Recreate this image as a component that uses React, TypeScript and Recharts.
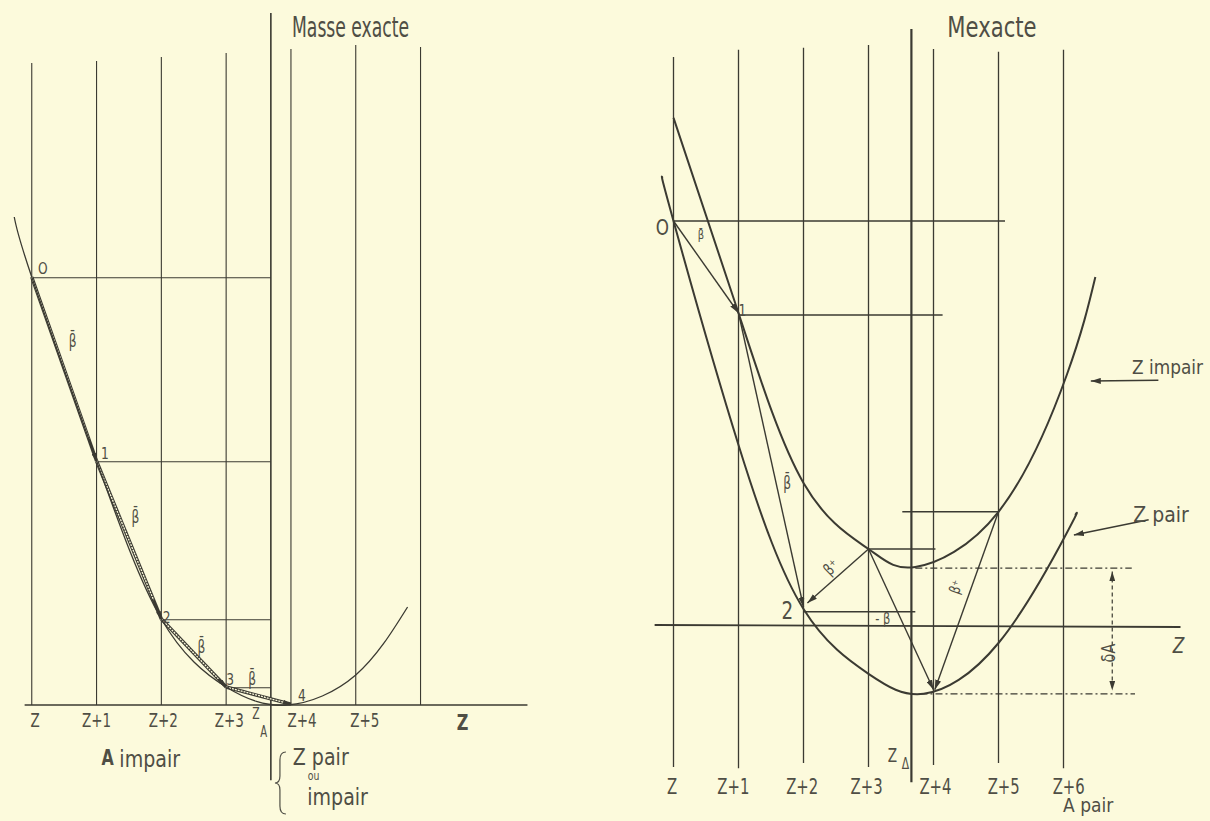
import { ComposedChart, Line, ReferenceLine, Scatter, XAxis, YAxis } from 'recharts';

const PAPER = '#fcfadc';
const INK = '#3b3a32';
const TEXT = '#4f4e45';
const FONT = "'DejaVu Sans Condensed', 'DejaVu Sans', sans-serif";

// ---------- left panel : A impair ----------
const leftLines = [0, 1, 2, 3, 4, 5, 6];
const leftLineTops = [16.05, 16.1, 16.2, 16.3, 16.4, 16.5, 16.45];
const leftZA = 3.69;
const leftCurve = [
  { x: -0.27, y: 12.2 },
  { x: 0, y: 10.7 },
  { x: 1, y: 6.1 },
  { x: 2, y: 2.15 },
  { x: 3, y: 0.45 },
  { x: 3.95, y: 0 },
  { x: 5, y: 0.75 },
  { x: 5.8, y: 2.45 },
];
const leftStates = [
  { x: 0, y: 10.7 },
  { x: 1, y: 6.1 },
  { x: 2, y: 2.15 },
  { x: 3, y: 0.45 },
  { x: 4, y: 0.02 },
];
const leftStateNames = ['O', '1', '2', '3', '4'];
const leftStateNameAt = [
  { x: 0.17, y: 10.93 },
  { x: 1.13, y: 6.3 },
  { x: 2.08, y: 2.2 },
  { x: 3.06, y: 0.65 },
  { x: 4.17, y: 0.25 },
];
const leftBetaAt = [
  { x: 0.63, y: 9.1 },
  { x: 1.6, y: 4.7 },
  { x: 2.62, y: 1.45 },
  { x: 3.4, y: 0.65 },
];
const leftTickLabels = ['Z', 'Z+1', 'Z+2', 'Z+3', 'Z+4', 'Z+5'];
const leftTickAt = [0.05, 1.0, 2.03, 3.05, 4.17, 5.14];

// ---------- right panel : A pair ----------
const rightLines = [0, 1, 2, 3, 4, 5, 6];
const rightLineTops = [14.2, 14.38, 14.43, 14.5, 14.4, 14.33, 14.38];
const rightLineBottoms = [-3.55, -3.58, -3.45, -3.55, -3.5, -3.45, -3.58];
const rightZA = 3.66;
const pairCurve = [
  { x: -0.17, y: 11.18 },
  { x: 0, y: 10.1 },
  { x: 1, y: 4.5 },
  { x: 2, y: 0.4 },
  { x: 3, y: -1.22 },
  { x: 3.85, y: -1.72 },
  { x: 5, y: -0.45 },
  { x: 6.05, y: 2.3 },
  { x: 6.18, y: 2.75 },
];
const impairCurve = [
  { x: 0, y: 12.68 },
  { x: 1, y: 7.8 },
  { x: 2, y: 3.55 },
  { x: 3, y: 1.9 },
  { x: 3.72, y: 1.45 },
  { x: 5, y: 2.83 },
  { x: 6.05, y: 6.25 },
  { x: 6.49, y: 8.7 },
];
const rightLevels = [
  { y: 10.1, from: 0, to: 5.1 },
  { y: 7.75, from: 1, to: 4.14 },
  { y: 0.33, from: 2, to: 3.72 },
  { y: 1.9, from: 3, to: 4.03 },
  { y: 2.83, from: 3.52, to: 5 },
];
const rightDecays = [
  { a: { x: 0, y: 10.1 }, b: { x: 1, y: 7.8 } },
  { a: { x: 1, y: 7.8 }, b: { x: 2, y: 0.45 } },
  { a: { x: 3, y: 1.9 }, b: { x: 2.06, y: 0.55 } },
  { a: { x: 3, y: 1.9 }, b: { x: 4, y: -1.62 } },
  { a: { x: 5, y: 2.83 }, b: { x: 4.02, y: -1.62 } },
];
const minLevels = [
  { y: 1.42, from: 3.72, to: 7.05 },
  { y: -1.72, from: 3.8, to: 7.1 },
];
const rightTickLabels = ['Z', 'Z+1', 'Z+2', 'Z+3', 'Z+4', 'Z+5', 'Z+6'];
const rightTickAt = [-0.02, 0.92, 1.98, 2.97, 4.03, 5.08, 6.08];

type Frame = { x0: number; ux: number; y0: number; uy: number; xd: [number, number]; yd: [number, number] };
const LEFT: Frame = { x0: 32, ux: 64.8, y0: 705, uy: 40, xd: [-0.49, 8], yd: [-2.9, 17.6] };
const RIGHT: Frame = { x0: 673, ux: 65, y0: 625, uy: 40, xd: [-0.5, 8.3], yd: [-4.9, 15.6] };

type NoteStyle = { size: number; sx?: number; rot?: number; bold?: boolean; italic?: boolean };

const noteShape = (s: NoteStyle) => (p: any) => {
  const t = p.payload?.t ?? '';
  return (
    <text
      transform={`translate(${p.cx},${p.cy}) rotate(${s.rot ?? 0}) scale(${s.sx ?? 0.78},1)`}
      textAnchor="middle"
      dominantBaseline="central"
      fontSize={s.size}
      fontFamily={FONT}
      fontWeight={s.bold ? 'bold' : 'normal'}
      fontStyle={s.italic ? 'italic' : 'normal'}
      fill={TEXT}
    >
      {t}
    </text>
  );
};

const notes = (key: string, data: { x: number; y: number; t: string }[], s: NoteStyle) => (
  <Scatter key={key} data={data} dataKey="y" shape={noteShape(s)} isAnimationActive={false} />
);

const plain = (w: number, dash?: string, head?: string, tail?: string) => (p: any) => (
  <line
    x1={p.x1}
    y1={p.y1}
    x2={p.x2}
    y2={p.y2}
    stroke={INK}
    strokeWidth={w}
    strokeDasharray={dash}
    markerEnd={head ? `url(#${head})` : undefined}
    markerStart={tail ? `url(#${tail})` : undefined}
  />
);

const doubled = (head: string) => (p: any) => {
  const mx = p.x1 + (p.x2 - p.x1) * 0.88;
  const my = p.y1 + (p.y2 - p.y1) * 0.88;
  return (
    <g>
      <line x1={p.x1} y1={p.y1} x2={p.x2} y2={p.y2} stroke={INK} strokeWidth={3.4} markerEnd={`url(#${head})`} />
      <line x1={p.x1} y1={p.y1} x2={mx} y2={my} stroke={PAPER} strokeWidth={1.3} strokeDasharray="2 1" />
    </g>
  );
};

const brace = (p: any) => {
  const x = p.cx;
  const y = p.cy;
  return (
    <path
      d={`M ${x + 6} ${y - 31} Q ${x} ${y - 31} ${x} ${y - 23} L ${x} ${y - 7} Q ${x} ${y} ${x - 5} ${y} Q ${x} ${y} ${x} ${y + 7} L ${x} ${y + 23} Q ${x} ${y + 31} ${x + 6} ${y + 31}`}
      fill="none"
      stroke={TEXT}
      strokeWidth={1.2}
    />
  );
};

const markers = (id: string, len: number, wid: number) => (
  <defs>
    <marker
      id={id}
      viewBox={`0 0 ${len} ${wid}`}
      refX={len}
      refY={wid / 2}
      markerWidth={len}
      markerHeight={wid}
      markerUnits="userSpaceOnUse"
      orient="auto-start-reverse"
    >
      <path d={`M0,0 L${len},${wid / 2} L0,${wid} z`} fill={INK} />
    </marker>
  </defs>
);

function Panel({ f, children }: { f: Frame; children: any }) {
  const left = f.x0 + f.ux * f.xd[0];
  const top = f.y0 - f.uy * f.yd[1];
  const width = f.ux * (f.xd[1] - f.xd[0]);
  const height = f.uy * (f.yd[1] - f.yd[0]);
  return (
    <div style={{ position: 'absolute', left, top, width, height }}>
      <ComposedChart width={width} height={height} margin={{ top: 0, right: 0, bottom: 0, left: 0 }}>
        <XAxis type="number" dataKey="x" domain={f.xd} hide allowDataOverflow />
        <YAxis type="number" dataKey="y" domain={f.yd} hide allowDataOverflow />
        {children}
      </ComposedChart>
    </div>
  );
}

function LeftPanel() {
  return (
    <Panel f={LEFT}>
      {markers('la', 8, 5)}
      {leftLines.map((z, i) => (
        <ReferenceLine
          key={`lv${z}`}
          segment={[{ x: z, y: 0 }, { x: z, y: leftLineTops[i] }]}
          shape={plain(1.1)}
        />
      ))}
      <ReferenceLine segment={[{ x: leftZA, y: -1.88 }, { x: leftZA, y: 17.3 }]} shape={plain(1.6)} />
      <ReferenceLine segment={[{ x: -0.11, y: 0 }, { x: 7.65, y: 0 }]} shape={plain(1.4)} />
      {leftStates.slice(0, 4).map((s, i) => (
        <ReferenceLine key={`lh${i}`} segment={[{ x: s.x, y: s.y - 0.02 }, { x: leftZA, y: s.y - 0.02 }]} shape={plain(1.1)} />
      ))}
      {leftStates.slice(0, 4).map((s, i) => (
        <ReferenceLine key={`lc${i}`} segment={[s, leftStates[i + 1]]} shape={doubled('la')} />
      ))}
      <Line data={leftCurve} dataKey="y" type="natural" dot={false} stroke={INK} strokeWidth={1.3} isAnimationActive={false} />
      {notes('ltick', leftTickLabels.map((t, i) => ({ x: leftTickAt[i], y: -0.38, t })), { size: 20, sx: 0.75 })}
      {notes('lstate', leftStateNames.map((t, i) => ({ ...leftStateNameAt[i], t })), { size: 16, sx: 0.85 })}
      {notes('lbeta', leftBetaAt.map((p) => ({ ...p, t: 'β\u0304' })), { size: 17, sx: 0.8 })}
      {notes('ltitle', [{ x: 4.92, y: 16.95, t: 'Masse exacte' }], { size: 29, sx: 0.66 })}
      {notes('lz', [{ x: 6.65, y: -0.45, t: 'Z' }], { size: 21, sx: 0.85, bold: true })}
      {notes('lza', [{ x: 3.46, y: -0.22, t: 'Z' }], { size: 16, sx: 0.75 })}
      {notes('lza2', [{ x: 3.58, y: -0.68, t: 'A' }], { size: 15, sx: 0.75 })}
      {notes('lA', [{ x: 1.17, y: -1.33, t: 'A' }], { size: 22, sx: 0.8, bold: true })}
      {notes('lbottom', [
        { x: 1.82, y: -1.33, t: 'impair' },
        { x: 4.46, y: -1.3, t: 'Z pair' },
        { x: 4.72, y: -2.3, t: 'impair' },
      ], { size: 23, sx: 0.92 })}
      {notes('lou', [{ x: 4.35, y: -1.76, t: 'ou' }], { size: 13, sx: 0.8 })}
      <Scatter data={[{ x: 3.83, y: -1.95 }]} dataKey="y" shape={brace} isAnimationActive={false} />
    </Panel>
  );
}

function RightPanel() {
  return (
    <Panel f={RIGHT}>
      {markers('ra', 10, 6)}
      {rightLines.map((z, i) => (
        <ReferenceLine
          key={`rv${z}`}
          segment={[{ x: z, y: rightLineBottoms[i] }, { x: z, y: rightLineTops[i] }]}
          shape={plain(1.3)}
        />
      ))}
      <ReferenceLine segment={[{ x: rightZA, y: -3.93 }, { x: rightZA, y: 14.9 }]} shape={plain(2.2)} />
      <ReferenceLine segment={[{ x: -0.29, y: 0 }, { x: 7.8, y: -0.05 }]} shape={plain(1.8)} />
      {rightLevels.map((l, i) => (
        <ReferenceLine key={`rh${i}`} segment={[{ x: l.from, y: l.y }, { x: l.to, y: l.y }]} shape={plain(1.6)} />
      ))}
      {minLevels.map((l, i) => (
        <ReferenceLine key={`rm${i}`} segment={[{ x: l.from, y: l.y }, { x: l.to, y: l.y }]} shape={plain(1.2, '7 3 2 3')} />
      ))}
      <ReferenceLine segment={[{ x: 6.75, y: 1.34 }, { x: 6.75, y: -1.64 }]} shape={plain(1.2, '4 3', 'ra', 'ra')} />
      {rightDecays.map((d, i) => (
        <ReferenceLine key={`rd${i}`} segment={[d.a, d.b]} shape={plain(1.4, undefined, 'ra')} />
      ))}
      <ReferenceLine segment={[{ x: 7.46, y: 6.12 }, { x: 6.42, y: 6.1 }]} shape={plain(1.4, undefined, 'ra')} />
      <ReferenceLine segment={[{ x: 7.31, y: 2.63 }, { x: 6.16, y: 2.25 }]} shape={plain(1.4, undefined, 'ra')} />
      <Line data={impairCurve} dataKey="y" type="natural" dot={false} stroke={INK} strokeWidth={2} isAnimationActive={false} />
      <Line data={pairCurve} dataKey="y" type="natural" dot={false} stroke={INK} strokeWidth={2} isAnimationActive={false} />
      {notes('rtick', rightTickLabels.map((t, i) => ({ x: rightTickAt[i], y: -4.05, t })), { size: 22, sx: 0.75 })}
      {notes('rtitle', [{ x: 4.9, y: 14.95, t: 'Mexacte' }], { size: 28, sx: 0.84 })}
      {notes('rO', [{ x: -0.17, y: 9.95, t: 'O' }], { size: 22, sx: 0.85 })}
      {notes('r1', [{ x: 1.06, y: 7.88, t: '1' }], { size: 16, sx: 0.85 })}
      {notes('r2', [{ x: 1.75, y: 0.375, t: '2' }], { size: 24, sx: 0.85 })}
      {notes('rb0', [{ x: 0.42, y: 9.75, t: 'β\u0304' }], { size: 13, sx: 0.85 })}
      {notes('rb1', [{ x: 1.75, y: 3.55, t: 'β\u0304' }], { size: 17, sx: 0.8 })}
      {notes('rb2', [{ x: 2.42, y: 1.45, t: 'β⁺' }], { size: 16, sx: 0.85, rot: -44 })}
      {notes('rb3', [{ x: 3.22, y: 0.17, t: '- β' }], { size: 15, sx: 0.85 })}
      {notes('rb4', [{ x: 4.34, y: 0.95, t: 'β⁺' }], { size: 15, sx: 0.85, rot: -70 })}
      {notes('rdA', [{ x: 6.69, y: -0.7, t: 'δA' }], { size: 19, sx: 0.85, rot: -90 })}
      {notes('rZ', [{ x: 7.77, y: -0.5, t: 'Z' }], { size: 22, sx: 0.85, italic: true })}
      {notes('rlab1', [{ x: 7.6, y: 6.43, t: 'Z impair' }], { size: 20, sx: 0.94 })}
      {notes('rlab2', [{ x: 7.5, y: 2.75, t: 'Z pair' }], { size: 21, sx: 1.0 })}
      {notes('rApair', [{ x: 6.38, y: -4.5, t: 'A pair' }], { size: 20, sx: 0.95 })}
      {notes('rZd', [{ x: 3.37, y: -3.25, t: 'Z' }], { size: 19, sx: 0.8 })}
      {notes('rZd2', [{ x: 3.57, y: -3.47, t: 'Δ' }], { size: 15, sx: 0.8 })}
    </Panel>
  );
}

export default function App() {
  return (
    <div
      style={{
        position: 'absolute',
        left: 0,
        top: 0,
        width: 1210,
        height: 821,
        overflow: 'hidden',
        background: PAPER,
      }}
    >
      <LeftPanel />
      <RightPanel />
    </div>
  );
}
